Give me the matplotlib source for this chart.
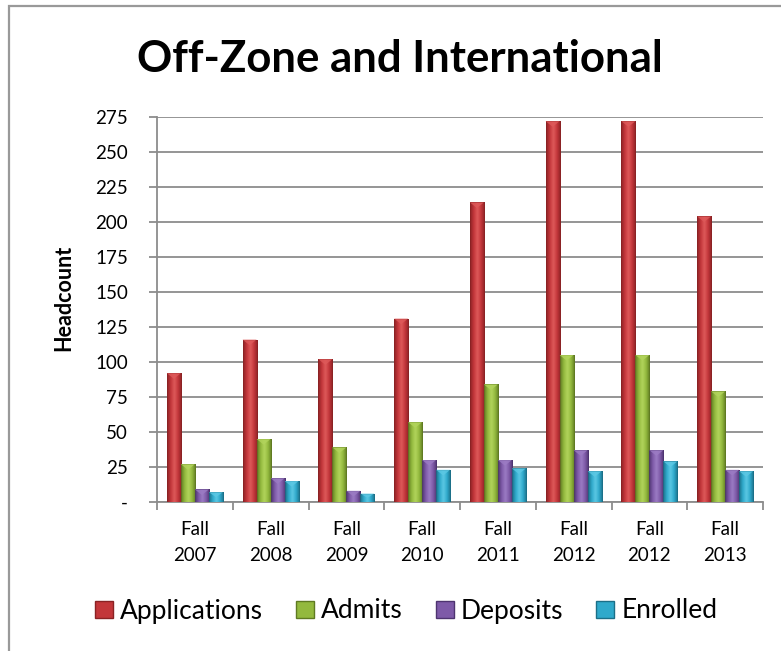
import matplotlib.pyplot as plt
import matplotlib.patches as mpatches
from matplotlib.colors import LinearSegmentedColormap
import numpy as np

# data
terms = ["Fall\n2007", "Fall\n2008", "Fall\n2009", "Fall\n2010",
         "Fall\n2011", "Fall\n2012", "Fall\n2012", "Fall\n2013"]
applications = [92, 116, 102, 131, 214, 272, 272, 204]
admits       = [27, 45, 39, 57, 84, 105, 105, 79]
deposits     = [9, 17, 8, 30, 30, 37, 37, 23]
enrolled     = [7, 15, 6, 23, 24, 22, 29, 22]

# name, values, (dark, base, light)
series = [("Applications", applications, ("#8A2224", "#C3363A", "#DE5A5A")),
          ("Admits",       admits,       ("#5F7A22", "#93B93E", "#B2D45C")),
          ("Deposits",     deposits,     ("#4E3470", "#7E5AA8", "#9C7CC4")),
          ("Enrolled",     enrolled,     ("#1B6F88", "#2FA9CB", "#5CC8E4"))]

plt.rcParams['font.family'] = ['Lato', 'DejaVu Sans']
grid_col = "#8C8C8C"

fig = plt.figure(figsize=(7.81, 6.51), dpi=100)
ax = fig.add_axes([157/781, 1 - 502/651, 606/781, 385/651])

x = np.arange(len(terms))
w = 0.185
grad = np.linspace(0, 1, 64).reshape(1, -1)
handles = []
for i, (name, vals, (dark, base, light)) in enumerate(series):
  cmap = LinearSegmentedColormap.from_list(name, [dark, base, light, base, dark])
  bars = ax.bar(x + (i - 1.5) * w, vals, width=w, facecolor="none",
                edgecolor=dark, linewidth=0.6, zorder=4)
  for b in bars:
    bx, by, bw, bh = b.get_x(), b.get_y(), b.get_width(), b.get_height()
    im = ax.imshow(grad, extent=[bx, bx + bw, by, by + bh], aspect="auto",
                   cmap=cmap, zorder=3, interpolation="bicubic")
    im.set_clip_path(b)
    # lighter "V" cap at the top of each bar
    d = min(4.0, bh * 0.5)
    ax.add_patch(mpatches.Polygon([[bx, by + bh], [bx + bw, by + bh],
                                   [bx + bw / 2, by + bh - d]],
                                  closed=True, facecolor=light, alpha=0.8,
                                  edgecolor="none", zorder=4))
  handles.append(mpatches.Patch(facecolor=base, edgecolor=dark, label=name))

ax.set_xlim(-0.5, len(terms) - 0.5)
ax.set_ylim(0, 275)
yt = np.arange(0, 276, 25)
ax.set_yticks(yt)
ax.set_yticklabels(["-"] + [str(v) for v in yt[1:]], fontsize=13.5)
ax.yaxis.grid(True, color=grid_col, linewidth=1.3, zorder=0)
ax.set_axisbelow(True)

ax.set_xticks(x)
ax.set_xticklabels(terms, fontsize=13.5, linespacing=1.65)
ax.set_xticks(np.arange(-0.5, len(terms)), minor=True)
ax.tick_params(axis="x", which="major", length=0, pad=13.5)
ax.tick_params(axis="x", which="minor", length=5.5, color=grid_col, width=1.3)
ax.tick_params(axis="y", length=5.8, color=grid_col, width=1.3, pad=15)

for s in ["top", "right"]:
  ax.spines[s].set_visible(False)
for s in ["left", "bottom"]:
  ax.spines[s].set_color(grid_col)
  ax.spines[s].set_linewidth(1.3)

fig.text(64/781, 1 - 298/651, "Headcount", rotation=90, ha="center",
         va="center", fontsize=15.5, fontweight="bold")

fig.text(400/781, 1 - 72/651, "Off-Zone and International",
         ha="center", va="baseline", fontsize=31.5, fontweight="bold")

fig.legend(handles=handles, loc="center", bbox_to_anchor=(406/781, 1 - 611/651),
           ncol=4, frameon=False, fontsize=19, handlelength=0.68,
           handleheight=0.6, handletextpad=0.27, columnspacing=1.25,
           borderpad=0)

fig.patches.append(mpatches.Rectangle((9/781, -0.02), 1, 1 - 6/651 + 0.02,
                   transform=fig.transFigure, fill=False,
                   edgecolor="#999999", linewidth=1.6))

fig.savefig("out.png", dpi=100)
